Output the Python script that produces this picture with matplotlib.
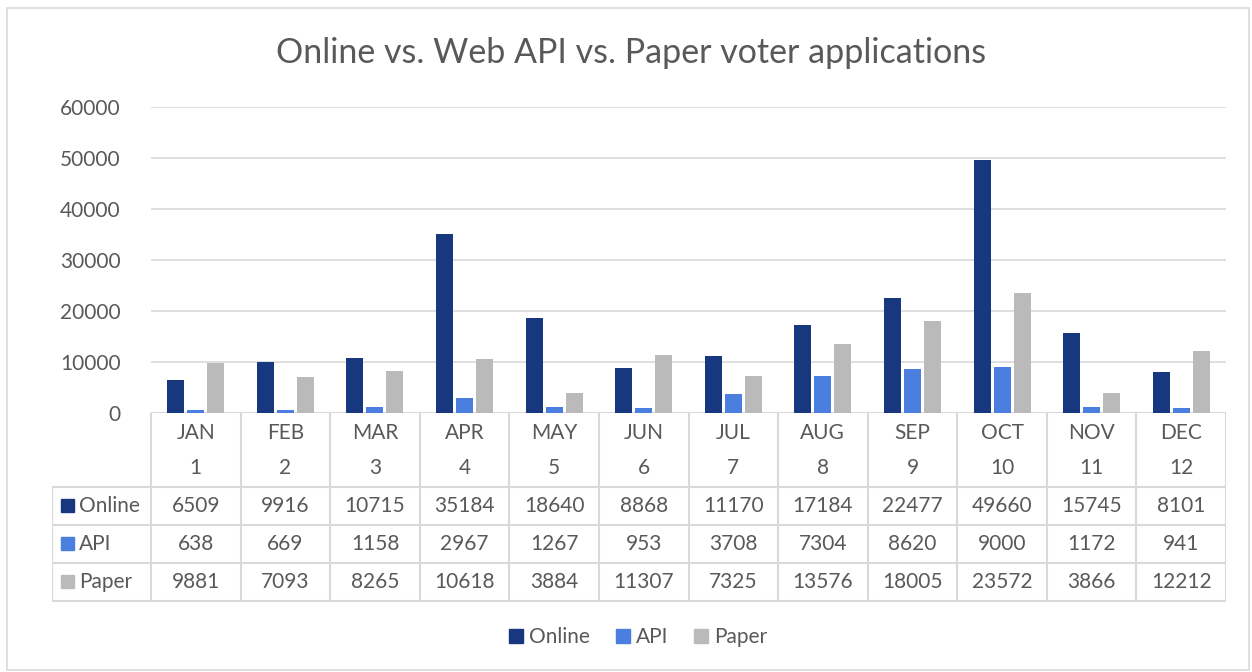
import matplotlib.pyplot as plt
from matplotlib.patches import Rectangle
from matplotlib.lines import Line2D

months = ["JAN", "FEB", "MAR", "APR", "MAY", "JUN", "JUL", "AUG", "SEP", "OCT", "NOV", "DEC"]
month_nums = [1, 2, 3, 4, 5, 6, 7, 8, 9, 10, 11, 12]
series = ["Online", "API", "Paper"]
online = [6509, 9916, 10715, 35184, 18640, 8868, 11170, 17184, 22477, 49660, 15745, 8101]
api = [638, 669, 1158, 2967, 1267, 953, 3708, 7304, 8620, 9000, 1172, 941]
paper = [9881, 7093, 8265, 10618, 3884, 11307, 7325, 13576, 18005, 23572, 3866, 12212]
colors = ["#17387f", "#4a7fe0", "#bababa"]

W, H = 1252, 672
txt = "#595959"
grid = "#d9d9d9"
plt.rcParams['font.family'] = ['Lato', 'DejaVu Sans']

fig = plt.figure(figsize=(W / 100, H / 100), dpi=100)

# chart border
fig.patches.append(Rectangle((7 / W, 1 - 670 / H), 1242 / W, 662 / H, transform=fig.transFigure,
                             fill=False, edgecolor=grid, linewidth=1.2))

def fx(px):
    return px / W

def fy(py):
    return 1 - py / H

# bar plot area
ax = fig.add_axes([fx(151), fy(413), fx(1226) - fx(151), fy(107) - fy(413)])
x = list(range(12))
bw = 0.19
off = 0.223
for i, vals in enumerate([online, api, paper]):
    ax.bar([xi + (i - 1) * off for xi in x], vals, width=bw, color=colors[i], label=series[i], zorder=3)
ax.set_xlim(-0.5, 11.5)
ax.set_ylim(0, 60000)
ax.set_yticks(range(0, 60001, 10000))
ax.set_yticklabels([str(v) for v in range(0, 60001, 10000)], fontsize=15, color=txt)
ax.tick_params(axis='y', length=0, pad=22)
ax.set_xticks([])
ax.grid(axis='y', color=grid, linewidth=1.2, zorder=0)
for s in ax.spines.values():
    s.set_visible(False)
ax.axhline(0, color=grid, linewidth=1.5, zorder=2)

# data table
colw = (1226 - 151) / 12
left = -0.5 - (151 - 52) / colw
tab = fig.add_axes([fx(52), fy(602), fx(1226) - fx(52), fy(413) - fy(602)])
tab.set_xlim(left, 11.5)
tab.set_ylim(602, 413)
tab.axis('off')
lw = 1.5
for k in range(13):
    tab.plot([k - 0.5, k - 0.5], [413, 601], color=grid, linewidth=lw)
tab.plot([left, left], [487, 601], color=grid, linewidth=lw)
for yy in [487, 525, 563, 601]:
    tab.plot([left, 11.5], [yy, yy], color=grid, linewidth=lw)

for k in range(12):
    tab.text(k, 433, months[k], ha='center', va='center', fontsize=15, color=txt)
    tab.text(k, 468, str(month_nums[k]), ha='center', va='center', fontsize=15, color=txt)

rows = [online, api, paper]
row_y = [506, 544, 582]
for r in range(3):
    tab.add_patch(Rectangle((left + 9 / colw, row_y[r] - 6.5), 13 / colw, 13, color=colors[r]))
    tab.text(left + 27 / colw, row_y[r], series[r], ha='left', va='center', fontsize=15, color=txt)
    for k in range(12):
        tab.text(k, row_y[r], str(rows[r][k]), ha='center', va='center', fontsize=15, color=txt)

fig.text(fx(631), fy(53), "Online vs. Web API vs. Paper voter applications", ha='center', va='center',
         fontsize=24.5, color=txt)

handles = [Line2D([], [], marker='s', linestyle='none', markersize=10, color=c) for c in colors]
fig.legend(handles=handles, labels=series, loc='center', bbox_to_anchor=(fx(638), fy(637)), ncol=3,
           frameon=False, fontsize=15, labelcolor=txt, handlelength=0.7,
           handletextpad=0.3, columnspacing=1.2)

fig.savefig("out.png", dpi=100)
